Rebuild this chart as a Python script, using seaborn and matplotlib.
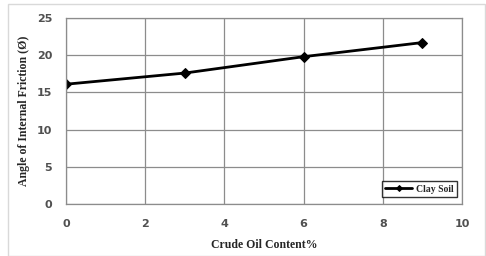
import matplotlib
matplotlib.use('Agg')
import matplotlib.pyplot as plt
import seaborn as sns
import pandas as pd
from matplotlib.patches import Rectangle

# Data
oil_content = [0, 3, 6, 9]
friction_angle = [16.1, 17.6, 19.8, 21.7]
series_name = "Clay Soil"

x_ticks = [0, 2, 4, 6, 8, 10]
y_ticks = [0, 5, 10, 15, 20, 25]

df = pd.DataFrame({"oil": oil_content, "angle": friction_angle, "series": series_name})

sns.set_style("white")
plt.rcParams['font.family'] = ['DejaVu Sans']

fig = plt.figure(figsize=(4.86, 2.56), dpi=100)
ax = fig.add_axes([66 / 486, 1 - 204 / 256, (462 - 66) / 486, (204 - 18) / 256])

# light outer frame
fig.patches.append(Rectangle((8 / 486, 0.0), 1 - 8 / 486 - 0.002, 1 - 4 / 256,
                             transform=fig.transFigure, fill=False,
                             edgecolor='#d9d9d9', linewidth=1.0))

sns.lineplot(data=df, x="oil", y="angle", hue="series", palette=["black"],
             marker="D", markersize=5, linewidth=2, markeredgecolor="black", ax=ax)

ax.set_xlim(0, 10)
ax.set_ylim(0, 25)
ax.set_xticks(x_ticks)
ax.set_yticks(y_ticks)
ax.grid(True, color='#8c8c8c', linewidth=0.9)
for s in ax.spines.values():
    s.set_color('#8c8c8c')
    s.set_linewidth(0.9)
ax.tick_params(axis='both', length=0, labelsize=8, colors='#505050')
ax.tick_params(axis='x', pad=11)
ax.tick_params(axis='y', pad=10)
for lab in ax.get_xticklabels() + ax.get_yticklabels():
    lab.set_fontweight('bold')

ax.set_xlabel("Crude Oil Content%", family='Liberation Serif', fontweight='bold',
              fontsize=8.5, labelpad=7)
ax.set_ylabel("Angle of Internal Friction (Ø)", family='Liberation Serif',
              fontweight='bold', fontsize=8.5, labelpad=5)

leg = ax.legend(loc='lower right', bbox_to_anchor=(1.0, 0.01), frameon=True,
                fancybox=False, handlelength=2.8, borderpad=0.35, handletextpad=0.4,
                prop={'family': 'Liberation Serif', 'weight': 'bold', 'size': 7})
leg.get_frame().set_edgecolor('black')
leg.get_frame().set_linewidth(1.0)
for h in leg.legend_handles:
    h.set_markersize(3)

fig.savefig("out.png", dpi=100)
